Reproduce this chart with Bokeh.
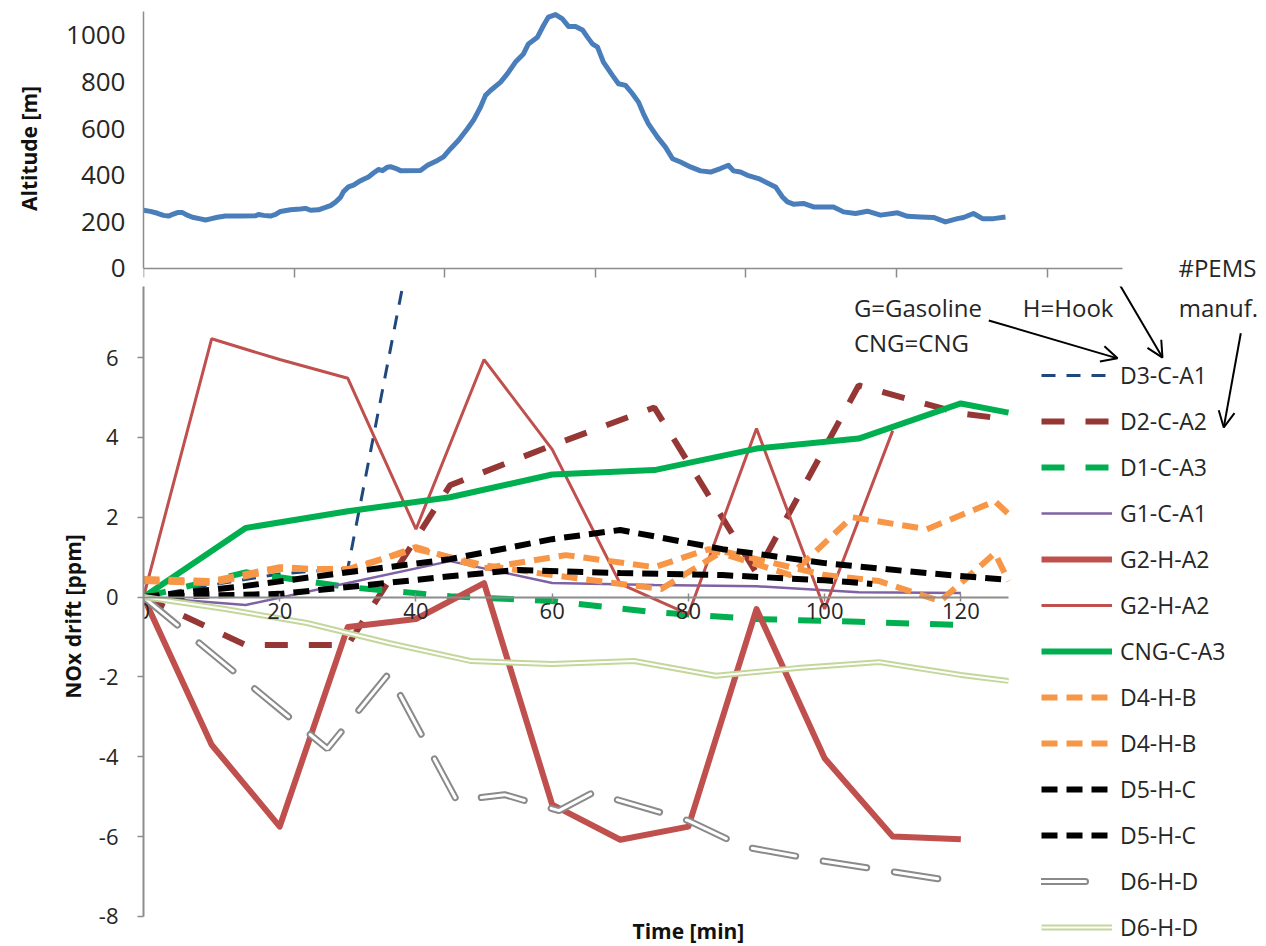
from bokeh.plotting import figure
from bokeh.models import (Range1d, FixedTicker, Legend, LegendItem, Label, Arrow,
                          OpenHead, LinearAxis)
from bokeh.layouts import column
from bokeh.embed import file_html
from bokeh.resources import INLINE

# ---------------- data ----------------
# Altitude profile (top panel): time [s], altitude [m]
alt_time = [0, 46, 93, 133, 166, 193, 226, 259, 286, 325, 378, 412, 445, 491, 544, 644,
            744, 764, 797, 843, 877, 910, 976, 1042, 1076, 1109, 1162, 1208, 1242, 1275,
            1308, 1328, 1361, 1394, 1428, 1461, 1494, 1527, 1560, 1587, 1620, 1640, 1673,
            1707, 1839, 1886, 1952, 1992, 2039, 2092, 2151, 2191, 2238, 2271, 2304, 2371,
            2417, 2470, 2523, 2556, 2616, 2656, 2689, 2736, 2782, 2822, 2869, 2915, 2948,
            2981, 3015, 3054, 3114, 3154, 3201, 3247, 3287, 3320, 3353, 3413, 3466, 3513,
            3566, 3632, 3699, 3765, 3831, 3884, 3918, 3964, 4011, 4084, 4143, 4197, 4243,
            4276, 4316, 4382, 4449, 4582, 4648, 4728, 4807, 4894, 5007, 5073, 5159, 5246,
            5325, 5405, 5445, 5511, 5571, 5644, 5724]
alt_m = [250, 245, 237, 228, 225, 232, 240, 240, 230, 220, 213, 208, 213, 220, 225, 225,
         226, 232, 228, 225, 232, 245, 252, 255, 258, 250, 252, 262, 270, 285,
         305, 330, 350, 358, 372, 383, 393, 410, 425, 420, 435, 437, 430,
         420, 421, 443, 464, 479, 514, 550, 600, 636, 693, 743, 764, 800,
         836, 886, 921, 964, 993, 1043, 1079, 1090, 1071, 1039, 1039, 1024, 993,
         964, 950, 886, 829, 793, 786, 750, 714, 664, 621, 564, 521, 471,
         457, 436, 419, 414, 429, 443, 419, 414, 400, 386, 367, 350, 307,
         286, 276, 279, 264, 264, 243, 236, 246, 229, 239, 224, 221, 219,
         200, 214, 219, 236, 214, 214, 221]

alt_ticks = [0, 200, 400, 600, 800, 1000]
time_s_ticks = [0, 1000, 2000, 3000, 4000, 5000, 6000]

# NOx drift (bottom panel): time [min], drift [ppm]
d3_c_a1_t = [0, 10, 20, 30, 40]
d3_c_a1 = [0, 0.3, 0.58, 0.72, 9.5]

d2_c_a2_t = [0, 15, 30, 45, 60, 75, 90, 105, 120, 127]
d2_c_a2 = [0, -1.2, -1.2, 2.8, 3.8, 4.75, 0.6, 5.3, 4.6, 4.45]

d1_c_a3_t = [0, 15, 30, 45, 60, 75, 90, 105, 120]
d1_c_a3 = [0, 0.62, 0.25, 0.02, -0.1, -0.38, -0.55, -0.62, -0.7]

g1_c_a1_t = [0, 15, 30, 45, 60, 75, 90, 105, 120]
g1_c_a1 = [0, -0.2, 0.35, 0.9, 0.35, 0.3, 0.27, 0.12, 0.1]

g2_h_a2_thick_t = [0, 10, 20, 30, 40, 50, 60, 70, 80, 90, 100, 110, 120]
g2_h_a2_thick = [0, -3.7, -5.75, -0.75, -0.55, 0.35, -5.2, -6.08, -5.75, -0.3, -4.04, -6.0, -6.07]

g2_h_a2_thin_t = [0, 10, 20, 30, 40, 50, 60, 70, 80, 90, 100, 110]
g2_h_a2_thin = [0, 6.47, 5.95, 5.48, 1.7, 5.95, 3.7, 0.33, -0.43, 4.22, -0.3, 4.17]

cng_c_a3_t = [0, 15, 30, 45, 60, 75, 90, 105, 120, 127]
cng_c_a3 = [0, 1.73, 2.15, 2.5, 3.07, 3.18, 3.72, 3.97, 4.85, 4.62]

d4_h_b_1_t = [0, 10, 20, 30, 40, 50, 62, 75, 83, 95, 104, 115, 125, 127]
d4_h_b_1 = [0.45, 0.4, 0.75, 0.65, 1.25, 0.72, 1.05, 0.75, 1.2, 0.55, 2.0, 1.7, 2.4, 2.08]

d4_h_b_2_t = [0, 10, 20, 30, 40, 50, 60, 76, 85, 100, 108, 117, 125, 127]
d4_h_b_2 = [0.4, 0.35, 0.7, 0.7, 1.2, 0.8, 0.55, 0.2, 1.15, 0.55, 0.4, -0.1, 1.1, 0.4]

d5_h_c_1_t = [0, 15, 30, 45, 60, 70, 85, 100, 115, 127]
d5_h_c_1 = [0, 0.28, 0.62, 0.95, 1.45, 1.68, 1.2, 0.85, 0.6, 0.43]

d5_h_c_2_t = [0, 20, 30, 45, 55, 70, 85, 100, 107]
d5_h_c_2 = [0, 0.08, 0.25, 0.52, 0.68, 0.6, 0.55, 0.42, 0.33]

d6_h_d_1_t = [0, 27, 36, 46, 53, 61, 66, 80, 88, 100, 110, 120]
d6_h_d_1 = [0, -3.8, -1.92, -5.1, -4.95, -5.35, -4.9, -5.6, -6.25, -6.62, -6.88, -7.15]

d6_h_d_2_t = [0, 12, 24, 36, 48, 60, 72, 84, 96, 108, 120, 127]
d6_h_d_2 = [0, -0.3, -0.65, -1.15, -1.6, -1.68, -1.6, -1.97, -1.78, -1.63, -1.95, -2.1]

time_ticks = [0, 20, 40, 60, 80, 100, 120]
drift_ticks = [-8, -6, -4, -2, 0, 2, 4, 6]

# ---------------- style ----------------
FONT = "Open Sans"
TXT = "#262626"
AXC = "#8C8C8C"

# ---------------- top panel ----------------
top = figure(width=1266, height=285, output_backend="svg", toolbar_location=None,
             x_range=Range1d(0, 7404), y_range=Range1d(-73, 1103), x_axis_location=None,
             min_border_left=143, min_border_right=8, min_border_top=11,
             min_border_bottom=0)
top.grid.visible = False
top.outline_line_color = None
top.line(alt_time, alt_m, line_color="#4A7EBB", line_width=5, line_join="round")

ya = top.yaxis[0]
ya.bounds = (0, 1103)
ya.ticker = FixedTicker(ticks=alt_ticks)
ya.major_tick_out = 0
ya.major_tick_in = 0
ya.minor_tick_out = 0
ya.minor_tick_in = 0
ya.axis_line_color = AXC
ya.axis_line_width = 1.5
ya.major_label_text_font = FONT
ya.major_label_text_font_size = "26px"
ya.major_label_text_color = TXT
ya.major_label_standoff = 18
ya.axis_label = "Altitude [m]"
ya.axis_label_text_font = FONT
ya.axis_label_text_font_style = "bold"
ya.axis_label_text_font_size = "21px"
ya.axis_label_text_color = "#111111"
ya.axis_label_standoff = 20

xa = LinearAxis(fixed_location=0, ticker=FixedTicker(ticks=time_s_ticks))
xa.bounds = (0, 6500)
xa.major_tick_out = 9
xa.major_tick_in = 0
xa.minor_tick_out = 0
xa.minor_tick_in = 0
xa.axis_line_color = AXC
xa.axis_line_width = 1.5
xa.major_tick_line_color = AXC
xa.major_tick_line_width = 1.5
xa.major_label_text_font_size = "0px"
xa.major_label_text_alpha = 0
top.add_layout(xa, "below")

top.add_layout(Label(x=6872, y=6, text="#PEMS", text_font=FONT, text_font_size="24px",
                     text_color=TXT, text_baseline="middle", text_align="left"))

# ---------------- bottom panel ----------------
bot = figure(width=1266, height=661, output_backend="svg", toolbar_location=None,
             x_range=Range1d(0, 163.7), y_range=Range1d(-8.754, 7.78), x_axis_location=None,
             min_border_left=143, min_border_right=8, min_border_top=1,
             min_border_bottom=0)
bot.grid.visible = False
bot.outline_line_color = None

xax = LinearAxis(fixed_location=0, ticker=FixedTicker(ticks=time_ticks))
xax.bounds = (0, 127)
xax.axis_line_color = AXC
xax.axis_line_width = 2
xax.major_tick_line_color = AXC
xax.major_tick_line_width = 1.5
xax.major_tick_in = 4
xax.major_tick_out = 4
xax.minor_tick_in = 0
xax.minor_tick_out = 0
xax.major_label_text_font = FONT
xax.major_label_text_font_size = "22px"
xax.major_label_text_color = TXT
xax.major_label_standoff = 2
bot.add_layout(xax, "below")

yb = bot.yaxis[0]
yb.bounds = (-8, 7.78)
yb.ticker = FixedTicker(ticks=drift_ticks)
yb.major_label_overrides = {t: str(t) for t in drift_ticks}
yb.axis_line_color = AXC
yb.axis_line_width = 2
yb.major_tick_line_color = AXC
yb.major_tick_line_width = 1.5
yb.major_tick_out = 6
yb.major_tick_in = 0
yb.minor_tick_out = 0
yb.minor_tick_in = 0
yb.major_label_text_font = FONT
yb.major_label_text_font_size = "22px"
yb.major_label_text_color = TXT
yb.major_label_standoff = 19
yb.axis_label = "NOx drift [ppm]"
yb.axis_label_text_font = FONT
yb.axis_label_text_font_style = "bold"
yb.axis_label_text_font_size = "21px"
yb.axis_label_text_color = "#111111"
yb.axis_label_standoff = 9

r_d3 = bot.line(d3_c_a1_t, d3_c_a1, line_color="#1F497D", line_width=3, line_dash="14 11")
r_d2 = bot.line(d2_c_a2_t, d2_c_a2, line_color="#953735", line_width=6, line_dash="23 21")
r_d1 = bot.line(d1_c_a3_t, d1_c_a3, line_color="#00B050", line_width=6, line_dash="23 21")
r_g1 = bot.line(g1_c_a1_t, g1_c_a1, line_color="#7F62A3", line_width=2.5)
r_g2a = bot.line(g2_h_a2_thick_t, g2_h_a2_thick, line_color="#C0504D", line_width=6,
                 line_join="round")
r_g2b = bot.line(g2_h_a2_thin_t, g2_h_a2_thin, line_color="#C0504D", line_width=3)
r_cng = bot.line(cng_c_a3_t, cng_c_a3, line_color="#00B050", line_width=6, line_join="round")
r_d4a = bot.line(d4_h_b_1_t, d4_h_b_1, line_color="#F79646", line_width=6, line_dash="16 9")
r_d4b = bot.line(d4_h_b_2_t, d4_h_b_2, line_color="#F79646", line_width=6, line_dash="16 9")
r_d5a = bot.line(d5_h_c_1_t, d5_h_c_1, line_color="#000000", line_width=6, line_dash="16 9")
r_d5b = bot.line(d5_h_c_2_t, d5_h_c_2, line_color="#000000", line_width=6, line_dash="16 9")
r_d6a_o = bot.line(d6_h_d_1_t, d6_h_d_1, line_color="#8A8A8A", line_width=7,
                   line_dash="44 28", line_cap="round")
r_d6a_i = bot.line(d6_h_d_1_t, d6_h_d_1, line_color="#FFFFFF", line_width=3,
                   line_dash="44 28", line_cap="round")
r_d6b_o = bot.line(d6_h_d_2_t, d6_h_d_2, line_color="#C4D79B", line_width=6)
r_d6b_i = bot.line(d6_h_d_2_t, d6_h_d_2, line_color="#FFFFFF", line_width=2)

items = [
    LegendItem(label="D3-C-A1", renderers=[r_d3]),
    LegendItem(label="D2-C-A2", renderers=[r_d2]),
    LegendItem(label="D1-C-A3", renderers=[r_d1]),
    LegendItem(label="G1-C-A1", renderers=[r_g1]),
    LegendItem(label="G2-H-A2", renderers=[r_g2a]),
    LegendItem(label="G2-H-A2 ", renderers=[r_g2b]),
    LegendItem(label="CNG-C-A3", renderers=[r_cng]),
    LegendItem(label="D4-H-B", renderers=[r_d4a]),
    LegendItem(label="D4-H-B ", renderers=[r_d4b]),
    LegendItem(label="D5-H-C", renderers=[r_d5a]),
    LegendItem(label="D5-H-C ", renderers=[r_d5b]),
    LegendItem(label="D6-H-D", renderers=[r_d6a_o, r_d6a_i]),
    LegendItem(label="D6-H-D ", renderers=[r_d6b_o, r_d6b_i]),
]
legend = Legend(items=items, location=(898, 3), glyph_width=71, glyph_height=32,
                label_height=32, spacing=14, padding=0, margin=0, label_standoff=8,
                label_text_font=FONT, label_text_font_size="23px", label_text_color=TXT,
                background_fill_alpha=0, border_line_alpha=0)
bot.add_layout(legend)

# annotations
def lab(x, y, t, size="24px"):
    return Label(x=x, y=y, text=t, text_font=FONT, text_font_size=size, text_color=TXT,
                 text_align="left", text_baseline="middle")

bot.add_layout(lab(104.3, 7.26, "G=Gasoline"))
bot.add_layout(lab(104.3, 6.38, "CNG=CNG"))
bot.add_layout(lab(129.1, 7.26, "H=Hook"))
bot.add_layout(lab(152.0, 7.26, "manuf."))
bot.add_layout(Label(x=80, y=-8.37, text="Time [min]", text_font=FONT, text_font_size="21px",
                     text_font_style="bold", text_color="#111111", text_align="center",
                     text_baseline="middle"))

for (xs, ys, xe, ye) in [(124.1, 6.93, 143.0, 5.98), (143.2, 7.86, 149.6, 6.0),
                         (161.1, 6.61, 158.6, 4.25)]:
    bot.add_layout(Arrow(end=OpenHead(size=16, line_width=2, line_color="black"),
                         x_start=xs, y_start=ys, x_end=xe, y_end=ye,
                         line_width=2, line_color="black"))

layout = column(top, bot, spacing=0)
open("out.html", "w").write(file_html(layout, INLINE))
